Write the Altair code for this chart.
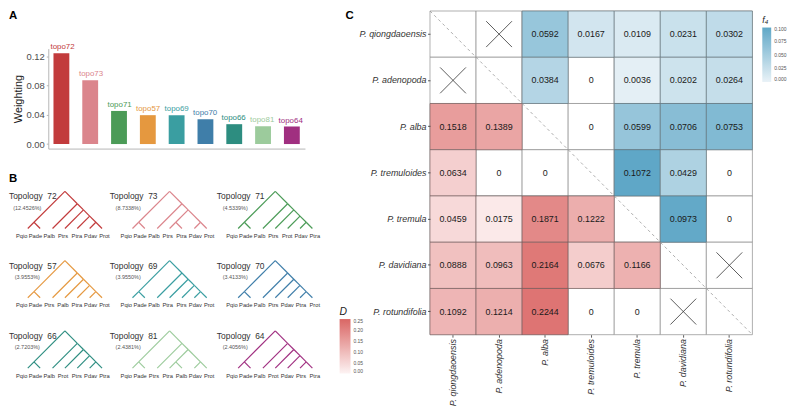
import altair as alt
import pandas as pd

FONT = "Liberation Sans"

# ---------------- data ----------------
topos = ["topo72", "topo73", "topo71", "topo57", "topo69", "topo70", "topo66", "topo81", "topo64"]
topology_ids = ["72", "73", "71", "57", "69", "70", "66", "81", "64"]
weight_pct = [12.4526, 8.7338, 4.5339, 3.9553, 3.9550, 3.4133, 2.7203, 2.4381, 2.4056]
topo_colors = ["#C23B3C", "#DB858C", "#4B9B57", "#E5983F", "#3A9EA1", "#3F7EA9", "#2D8D80", "#9CCB9C", "#A02F80"]

tree_72 = (("Pqio", "Pade"), ("Palb", ("Ptrs", ("Ptra", ("Pdav", "Prot")))))
tree_73 = (("Pqio", "Pade"), ("Palb", (("Ptrs", "Ptra"), ("Pdav", "Prot"))))
tree_71 = (("Pqio", "Pade"), ("Palb", ("Ptrs", ("Prot", ("Pdav", "Ptra")))))
tree_57 = (("Pqio", "Pade"), ("Ptrs", ("Palb", ("Ptra", ("Pdav", "Prot")))))
tree_69 = (("Pqio", "Pade"), ("Palb", ("Ptra", ("Ptrs", ("Pdav", "Prot")))))
tree_70 = (("Pqio", "Pade"), ("Palb", ("Ptrs", ("Pdav", ("Ptra", "Prot")))))
tree_66 = (("Pqio", "Pade"), ("Palb", ("Prot", ("Ptrs", ("Pdav", "Ptra")))))
tree_81 = (("Pqio", "Pade"), ("Ptrs", (("Ptra", "Palb"), ("Pdav", "Prot"))))
tree_64 = (("Pqio", "Pade"), ("Palb", ("Prot", ("Pdav", ("Ptrs", "Ptra")))))
trees = [tree_72, tree_73, tree_71, tree_57, tree_69, tree_70, tree_66, tree_81, tree_64]

species = ["P. qiongdaoensis", "P. adenopoda", "P. alba", "P. tremuloides",
           "P. tremula", "P. davidiana", "P. rotundifolia"]
# upper triangle (f4), row i holds columns i+1 .. 6 ; "X" = not tested
f4_upper = [
    ["X", 0.0592, 0.0167, 0.0109, 0.0231, 0.0302],
    [0.0384, 0, 0.0036, 0.0202, 0.0264],
    [0, 0.0599, 0.0706, 0.0753],
    [0.1072, 0.0429, 0],
    [0.0973, 0],
    ["X"],
]
# lower triangle (D), row i+1 holds columns 0 .. i
d_lower = [
    ["X"],
    [0.1518, 0.1389],
    [0.0634, 0, 0],
    [0.0459, 0.0175, 0.1871, 0.1222],
    [0.0888, 0.0963, 0.2164, 0.0676, 0.1166],
    [0.1092, 0.1214, 0.2244, 0, 0, "X"],
]

# ---------------- layout constants ----------------
W, H = 791, 398
LX, CX, DY = -2, -8, -4
A_X0, A_X1 = 42.7 + LX, 302 + LX
A_Y0, A_Y1 = 144 + DY, 43 + DY
UNIT = 12.5
T_X0 = 22 + LX
T_Y0 = 224.7 + DY
col_off = [0, 8.46, 17.0]
row_off = [0, 5.6, 11.28]
title_dx = [-1.52, -1.83, -1.72]
LEAF_LABEL_X0, LEAF_LABEL_STEP = -0.5, 1.116
C_X0, C_X1 = 434.3 + CX, 760 + CX
C_Y0, C_Y1 = 5 + DY, 336 - 8

topo_scale = alt.Scale(domain=topos, range=topo_colors)

# ---------------- panel A ----------------
bars_df = pd.DataFrame({"topo": topos, "w": [p / 100 for p in weight_pct]})
a_xscale = alt.Scale(domain=topos, range=[A_X0, A_X1], paddingInner=0.45, paddingOuter=0.18)
a_yscale = alt.Scale(domain=[-0.00623, 0.1307], range=[A_Y0, A_Y1], nice=False, zero=False)

bars = alt.Chart(bars_df).mark_bar().encode(
    x=alt.X("topo:N", sort=topos, scale=a_xscale,
            axis=alt.Axis(orient="bottom", offset=A_Y0 - H, labels=False, ticks=False, title=None,
                          grid=False, domainColor="#B5B5B5", domainWidth=1)),
    y=alt.Y("w:Q", scale=a_yscale,
            axis=alt.Axis(orient="left", offset=-A_X0, values=[0, 0.04, 0.08, 0.12], format=".2f",
                          title="Weighting", titleFont=FONT, titleFontSize=11, titleFontWeight="normal",
                          titleColor="#1a1a1a", titlePadding=3, labelFont=FONT, labelFontSize=9.5,
                          labelColor="#4D4D4D", labelPadding=2, tickSize=2, tickColor="#B5B5B5",
                          domainColor="#B5B5B5", domainWidth=1, grid=False)),
    y2=alt.datum(0),
    color=alt.Color("topo:N", scale=topo_scale, legend=None),
)
bar_labels = alt.Chart(bars_df).mark_text(baseline="bottom", dy=-2, fontSize=8, font=FONT).encode(
    x=alt.X("topo:N", sort=topos, scale=a_xscale, axis=None),
    y=alt.Y("w:Q", scale=a_yscale, axis=None),
    text="topo:N",
    color=alt.Color("topo:N", scale=topo_scale, legend=None),
)

# ---------------- panel B ----------------
edge_rows, leaf_rows, title_rows, pct_rows = [], [], [], []
for k, (tree, topo, tid, pct) in enumerate(zip(trees, topos, topology_ids, weight_pct)):
    r, c = divmod(k, 3)
    ox, oy = col_off[c], -row_off[r]
    leaves = []

    def walk(node, ox=ox, oy=oy, topo=topo, leaves=leaves):
        if isinstance(node, str):
            i = len(leaves)
            leaves.append(node)
            return i, i
        spans = [walk(ch) for ch in node]
        lo, hi = spans[0][0], spans[-1][1]
        for a, b in spans:
            edge_rows.append(dict(topo=topo, x=ox + (lo + hi) / 2, y=oy + (hi - lo) / 2,
                                  x2=ox + (a + b) / 2, y2=oy + (b - a) / 2))
        return lo, hi

    walk(tree)
    for i, name in enumerate(leaves):
        leaf_rows.append(dict(x=ox + LEAF_LABEL_X0 + i * LEAF_LABEL_STEP, y=oy - 0.61, label=name))
    title_rows.append(dict(x=ox + title_dx[c], y=oy + 2.59, label=f"Topology\u00a0\u00a0{tid}"))
    pct_rows.append(dict(x=ox + title_dx[c] + 1.48, y=oy + 1.68, label=f"({pct:.4f}%)"))

t_xscale = alt.Scale(domain=[0, 20], range=[T_X0, T_X0 + 20 * UNIT], nice=False, zero=False)
t_yscale = alt.Scale(domain=[-12, 4], range=[T_Y0 + 12 * UNIT, T_Y0 - 4 * UNIT], nice=False, zero=False)


def tx(f="x"):
    return alt.X(f"{f}:Q", scale=t_xscale, axis=None)


def ty(f="y"):
    return alt.Y(f"{f}:Q", scale=t_yscale, axis=None)


tree_edges = alt.Chart(pd.DataFrame(edge_rows)).mark_rule(strokeWidth=1.2).encode(
    x=tx(), y=ty(), x2="x2:Q", y2="y2:Q",
    color=alt.Color("topo:N", scale=topo_scale, legend=None),
)
leaf_text = alt.Chart(pd.DataFrame(leaf_rows)).mark_text(fontSize=5.8, font=FONT, color="#333333",
                                                         baseline="middle").encode(
    x=tx(), y=ty(), text="label:N")
title_text = alt.Chart(pd.DataFrame(title_rows)).mark_text(fontSize=8.5, font=FONT, color="#333333",
                                                           align="left", baseline="middle").encode(
    x=tx(), y=ty(), text="label:N")
pct_text = alt.Chart(pd.DataFrame(pct_rows)).mark_text(fontSize=5.5, font=FONT, color="#555555",
                                                       baseline="middle").encode(
    x=tx(), y=ty(), text="label:N")

# ---------------- panel C ----------------
grid_df = pd.DataFrame([dict(row=species[i], col=species[j]) for i in range(7) for j in range(7)])
f4_cells, d_cells, crosses = [], [], []
for i, vals in enumerate(f4_upper):
    for k, v in enumerate(vals):
        j = i + 1 + k
        if v == "X":
            crosses.append((i, j))
        else:
            f4_cells.append(dict(row=species[i], col=species[j], v=v, label="0" if v == 0 else f"{v:.4f}"))
for k, vals in enumerate(d_lower):
    i = k + 1
    for j, v in enumerate(vals):
        if v == "X":
            crosses.append((i, j))
        else:
            d_cells.append(dict(row=species[i], col=species[j], v=v, label="0" if v == 0 else f"{v:.4f}"))
cross_rows = []
for (i, j) in crosses:
    cross_rows.append(dict(x=j + 0.22, x2=j + 0.78, y=i + 0.22, y2=i + 0.78))
    cross_rows.append(dict(x=j + 0.78, x2=j + 0.22, y=i + 0.22, y2=i + 0.78))
n = len(species)
diag_df = pd.DataFrame([dict(x=0, x2=n, y=0, y2=n)])

c_xband = alt.Scale(domain=species, range=[C_X0, C_X1], paddingInner=0, paddingOuter=0)
c_yband = alt.Scale(domain=species, range=[C_Y0, C_Y1], paddingInner=0, paddingOuter=0)
c_xq = alt.Scale(domain=[0, n], range=[C_X0, C_X1], nice=False, zero=False)
c_yq = alt.Scale(domain=[0, n], range=[C_Y0, C_Y1], nice=False, zero=False)

axis_common = dict(title=None, domain=False, grid=False, ticks=True, tickSize=2.5, tickColor="#333333",
                   tickWidth=0.8, labelPadding=1.5, labelFontSize=9, labelFontStyle="italic",
                   labelColor="#333333", labelFont=FONT)

grid_layer = alt.Chart(grid_df).mark_rect(fill="white", stroke="#8C8C8C", strokeWidth=0.7).encode(
    x=alt.X("col:N", sort=species, scale=c_xband,
            axis=alt.Axis(orient="bottom", offset=C_Y1 - H, labelAngle=270, **axis_common)),
    y=alt.Y("row:N", sort=species, scale=c_yband,
            axis=alt.Axis(orient="left", offset=-C_X0, **axis_common)),
)

f4_df = pd.DataFrame(f4_cells)
d_df = pd.DataFrame(d_cells)

f4_layer = alt.Chart(f4_df[f4_df.v > 0]).mark_rect(stroke="#5E6E74", strokeWidth=0.6).encode(
    x=alt.X("col:N", sort=species, scale=c_xband, axis=None),
    y=alt.Y("row:N", sort=species, scale=c_yband, axis=None),
    color=alt.Color("v:Q", scale=alt.Scale(domain=[0, 0.1], range=["#E9F2F7", "#5FA7C7"],
                                           interpolate="rgb", clamp=True),
                    legend=alt.Legend(orient="none", legendX=762, legendY=5.7, title="f\u2084",
                                      titleFontStyle="italic", titleFontSize=9, titleFont=FONT,
                                      titleFontWeight="normal", titleColor="#222222", titlePadding=3,
                                      gradientLength=55, gradientThickness=9, gradientStrokeWidth=0,
                                      labelFontSize=5, labelFont=FONT, labelColor="#555555", labelOffset=3,
                                      values=[0, 0.025, 0.05, 0.075, 0.1], format=".3f", padding=0,
                                      labelOverlap=False, direction="vertical")),
)
d_layer = alt.Chart(d_df[d_df.v > 0]).mark_rect(stroke="#6E5A5A", strokeWidth=0.6).encode(
    x=alt.X("col:N", sort=species, scale=c_xband, axis=None),
    y=alt.Y("row:N", sort=species, scale=c_yband, axis=None),
    color=alt.Color("v:Q", scale=alt.Scale(domain=[0, 0.25], range=["#FDF3F3", "#DA6664"], interpolate="rgb"),
                    legend=alt.Legend(orient="none", legendX=335, legendY=299.7, title="D",
                                      titleFontStyle="italic", titleFontSize=10.5, titleFont=FONT,
                                      titleFontWeight="normal", titleColor="#222222", titlePadding=2,
                                      gradientLength=55, gradientThickness=11, gradientStrokeWidth=0,
                                      labelFontSize=5, labelFont=FONT, labelColor="#555555", labelOffset=3,
                                      values=[0, 0.05, 0.1, 0.15, 0.2, 0.25], format=".2f", padding=0,
                                      labelOverlap=False, direction="vertical")),
)
cell_text = alt.Chart(pd.concat([f4_df, d_df])).mark_text(fontSize=9, font=FONT, color="#1A1A1A").encode(
    x=alt.X("col:N", sort=species, scale=c_xband, axis=None),
    y=alt.Y("row:N", sort=species, scale=c_yband, axis=None),
    text="label:N",
)
diag_layer = alt.Chart(diag_df).mark_rule(color="#9A9A9A", strokeWidth=0.8, strokeDash=[3, 3]).encode(
    x=alt.X("x:Q", scale=c_xq, axis=None), x2="x2:Q",
    y=alt.Y("y:Q", scale=c_yq, axis=None), y2="y2:Q",
)
cross_layer = alt.Chart(pd.DataFrame(cross_rows)).mark_rule(color="#333333", strokeWidth=0.8).encode(
    x=alt.X("x:Q", scale=c_xq, axis=None), x2="x2:Q",
    y=alt.Y("y:Q", scale=c_yq, axis=None), y2="y2:Q",
)


# ---------------- panel letters ----------------
def letter(t, x, y):
    return alt.Chart(pd.DataFrame({"t": [t]})).mark_text(
        fontSize=11.5, fontWeight="bold", font=FONT, align="left", baseline="top", color="#000000"
    ).encode(text="t:N", x=alt.value(x), y=alt.value(y))


layers = [
    grid_layer, f4_layer, d_layer, diag_layer, cross_layer, cell_text,
    tree_edges, leaf_text, title_text, pct_text,
    bars, bar_labels,
    letter("A", 3 + LX, 4 + DY), letter("B", 3 + LX, 169 + DY), letter("C", 349 + CX, 4 + DY),
]

chart = alt.layer(*layers).resolve_scale(
    x="independent", y="independent", color="independent"
).properties(
    width=W, height=H, padding=0, background="white",
    autosize=alt.AutoSizeParams(type="none"),
).configure_view(stroke=None)

chart.save("out.html", embed_options={"renderer": "svg", "actions": False})
